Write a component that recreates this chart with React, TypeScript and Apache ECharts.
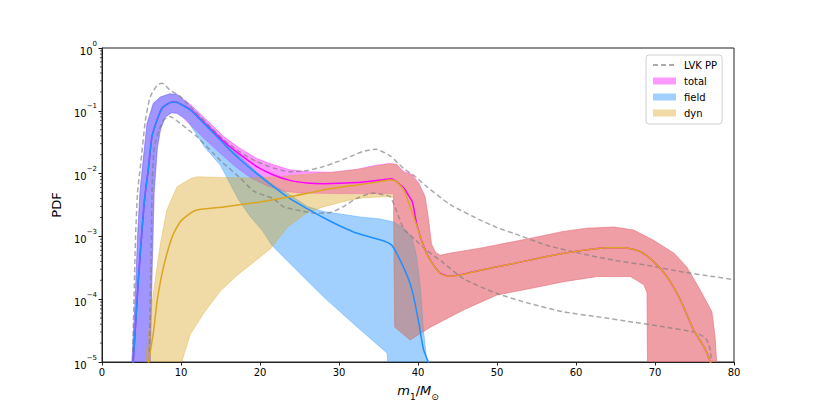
import React, { useEffect, useRef } from "react";
import * as echarts from "echarts";

type P = [number, number];

// ---- data (m1 [Msun], PDF) ----
const lvkUpper: P[] = [
  [3.85, 8e-6], [4.05, 1e-4], [4.25, 1e-3], [4.5, 5.0e-3], [4.86, 1.29e-2], [5.5, 7.1e-2],
  [6.1, 0.166], [7.0, 0.257], [7.6, 0.275], [8.6, 0.214], [9.9, 0.17], [11.2, 0.117],
  [13.3, 0.063], [15.4, 0.0347], [17.5, 0.0219], [19.6, 0.0155], [21.7, 0.0123], [23.8, 0.0107],
  [26, 0.0112], [28, 0.0129], [30, 0.0158], [31.4, 0.0186], [33, 0.0224], [34.6, 0.0245],
  [36.5, 0.019], [38.2, 0.012], [39.7, 0.0089], [41.1, 0.0062], [44.1, 0.0032], [47.9, 1.82e-3],
  [50, 1.38e-3], [52.1, 1.12e-3], [56.3, 7.24e-4], [60.5, 5.37e-4], [64.8, 4.17e-4],
  [69, 3.47e-4], [73.2, 2.75e-4], [77.4, 2.29e-4], [80, 2.04e-4],
];
const lvkLower: P[] = [
  [5.95, 8e-6], [6.12, 1e-4], [6.25, 1e-3], [6.35, 6.3e-3], [6.6, 0.0251], [7.2, 0.049],
  [7.8, 0.0708], [8.6, 0.0813], [9.9, 0.063], [11.2, 0.0468], [12.0, 0.0389], [14.1, 0.0209],
  [15.4, 0.0145], [17.5, 8.5e-3], [19.2, 5.25e-3], [21.7, 3.98e-3], [23, 2.95e-3], [25.5, 2.5e-3],
  [27.2, 2.34e-3], [28.9, 2.4e-3], [30.5, 2.95e-3], [32.3, 4.07e-3], [34.4, 4.9e-3], [35.6, 4.6e-3],
  [36.5, 4.27e-3], [37.3, 2.5e-3], [38.2, 1.32e-3], [39.7, 8.7e-4], [41.1, 6.0e-4], [43.2, 3.8e-4],
  [45.8, 2.1e-4], [50, 1.23e-4], [54.2, 8.5e-5], [58.4, 6.3e-5], [62.7, 5.25e-5], [66.9, 4.37e-5],
  [71.1, 3.63e-5], [74.9, 3.0e-5], [76.4, 2.4e-5], [77.0, 1.55e-5], [77.15, 8e-6],
];

const totalHi: P[] = [
  [3.75, 8e-6], [4.2, 1e-4], [4.5, 1e-3], [4.8, 5e-3], [5.2, 0.0158], [5.7, 0.063], [6.5, 0.132],
  [7.4, 0.166], [8.6, 0.186], [9.5, 0.182], [11.2, 0.126], [13.3, 0.0708], [15.4, 0.0389],
  [17.5, 0.0251], [19.6, 0.0174], [21.7, 0.0138], [23.8, 0.0115], [26, 0.0107], [29, 0.0105],
  [32.3, 0.0117], [34.5, 0.0135], [36.3, 0.0145], [37.3, 0.0141], [38.2, 0.0107], [39.2, 0.0098],
  [40.1, 7.1e-3], [40.9, 4.3e-3], [41.3, 2.0e-3], [41.7, 7.6e-4], [42.2, 5.6e-4], [42.8, 5.0e-4],
  [44, 5.4e-4], [47.9, 6.5e-4], [54.2, 9.3e-4], [58.4, 1.2e-3], [61.4, 1.35e-3], [64.8, 1.41e-3],
  [67.3, 1.26e-3], [69.8, 8.7e-4], [72.4, 5.4e-4], [74, 3.3e-4], [75.7, 1.41e-4], [77.2, 6.3e-5],
  [77.6, 2.5e-5], [77.8, 1e-5], [77.85, 8e-6],
];
const totalLo: P[] = [
  [6.1, 8e-6], [6.35, 3.16e-4], [6.6, 5e-3], [7.0, 0.0251], [7.4, 0.05], [8.0, 0.079],
  [8.8, 0.093], [9.5, 0.091], [10.2, 0.079], [11, 0.063], [13, 0.0355], [15, 0.0209],
  [17, 0.0126], [19, 8.3e-3], [21, 6.3e-3], [23, 5.25e-3], [25, 4.9e-3], [30, 4.8e-3],
  [36.9, 4.8e-3], [37.05, 3.6e-5], [39, 2.24e-5], [41.6, 3.6e-5], [45.8, 6.8e-5], [50, 1.17e-4],
  [54.2, 1.48e-4], [58.4, 1.9e-4], [62.7, 2.3e-4], [66.9, 2.3e-4], [68.6, 1.7e-4], [69.0, 1.26e-4],
  [69.05, 8e-6],
];

const fieldHi: P[] = [
  [3.75, 8e-6], [4.2, 1e-4], [4.5, 1e-3], [4.8, 5e-3], [5.2, 0.0158], [5.7, 0.063], [6.5, 0.132],
  [7.4, 0.166], [8.6, 0.186], [9.5, 0.182], [11.2, 0.117], [13.3, 0.063], [15.4, 0.0339],
  [17.5, 0.0186], [19.6, 0.0105], [21.7, 6.6e-3], [23.8, 4.57e-3], [26, 3.0e-3], [28, 2.5e-3],
  [32.7, 2.04e-3], [35.2, 1.9e-3], [36.9, 1.7e-3], [38, 1.41e-3], [39.2, 1.0e-3], [39.8, 5.0e-4],
  [40.3, 1.58e-4], [40.7, 3.2e-5], [41.1, 1.07e-5], [41.2, 8e-6],
];
const fieldLo: P[] = [
  [6.1, 8e-6], [6.35, 3.16e-4], [6.6, 5e-3], [7.0, 0.0251], [7.4, 0.05], [8.0, 0.079],
  [8.8, 0.093], [9.5, 0.091], [10.8, 0.0708], [13, 0.0263], [15, 0.0135], [17.3, 3.8e-3],
  [18.8, 2.04e-3], [20.25, 1.26e-3], [21.5, 7.2e-4], [23.8, 3.7e-4], [28, 1.1e-4], [32.3, 3.6e-5],
  [35.2, 1.74e-5], [36.1, 1.38e-5], [36.2, 8e-6],
];

const dynHi: P[] = [
  [5.4, 8e-6], [6.0, 4e-5], [6.5, 1.26e-4], [7.4, 7.8e-4], [8.2, 2.63e-3], [9.5, 6.2e-3],
  [11.2, 8.3e-3], [12, 8.9e-3], [15, 8.7e-3], [18.8, 8.5e-3], [22, 8.9e-3], [26, 9.8e-3],
  [30, 0.0107], [33, 0.012], [35.6, 0.0138], [36.5, 0.0143], [37.3, 0.0138], [38.2, 0.0104],
  [39.2, 0.0094], [40.1, 6.9e-3], [40.9, 4.2e-3], [41.3, 1.95e-3], [41.7, 7.6e-4], [42.2, 5.6e-4],
  [42.8, 5.0e-4], [44, 5.4e-4], [47.9, 6.5e-4], [54.2, 9.3e-4], [58.4, 1.2e-3], [61.4, 1.35e-3],
  [64.8, 1.41e-3], [67.3, 1.26e-3], [69.8, 8.7e-4], [72.4, 5.4e-4], [74, 3.3e-4], [75.7, 1.41e-4],
  [77.2, 6.3e-5], [77.6, 2.5e-5], [77.8, 1e-5], [77.85, 8e-6],
];
const dynLo: P[] = [
  [9.85, 8e-6], [11.2, 2.8e-5], [13, 6.3e-5], [15, 1.35e-4], [17, 2.34e-4], [18.8, 3.55e-4],
  [21.3, 6.3e-4], [23.5, 1.41e-3], [26, 2.4e-3], [28, 2.95e-3], [31.4, 3.8e-3], [33, 4.1e-3],
  [36.1, 4.3e-3], [36.9, 4.17e-3], [37.05, 3.6e-5], [39, 2.24e-5], [41.6, 3.6e-5], [45.8, 6.8e-5],
  [50, 1.17e-4], [54.2, 1.48e-4], [58.4, 1.9e-4], [62.7, 2.3e-4], [66.9, 2.3e-4], [68.6, 1.7e-4],
  [69.0, 1.26e-4], [69.05, 8e-6],
];

const fieldMed: P[] = [
  [3.9, 8e-6], [3.95, 1e-5], [4.3, 5e-5], [4.6, 2e-4], [5.0, 1e-3], [5.4, 4e-3], [5.9, 0.0129],
  [6.33, 0.039], [6.96, 0.0708], [7.6, 0.11], [8.6, 0.135], [9.3, 0.138], [10, 0.126],
  [11.2, 0.102], [13.3, 0.056], [15.4, 0.03], [17.5, 0.0166], [19.6, 0.01], [21.7, 6.2e-3],
  [23.8, 3.98e-3], [25.9, 2.8e-3], [28, 2.0e-3], [30.2, 1.45e-3], [32.3, 1.12e-3], [35.6, 8.5e-4],
  [36.6, 7.4e-4], [37.1, 6.0e-4], [38.2, 3.16e-4], [39.0, 1.78e-4], [39.6, 8.9e-5], [40.2, 3.55e-5],
  [40.7, 1.58e-5], [41.3, 1e-5], [41.4, 8e-6],
];
const totalMed: P[] = [
  [3.9, 8e-6], [3.95, 1e-5], [4.3, 5e-5], [4.6, 2e-4], [5.0, 1e-3], [5.4, 4e-3], [5.9, 0.0129],
  [6.33, 0.039], [6.96, 0.0708], [7.6, 0.11], [8.6, 0.135], [9.3, 0.139], [10, 0.127],
  [11.2, 0.105], [13.3, 0.0575], [15.4, 0.0324], [17.5, 0.02], [19.6, 0.0129], [21.7, 9.5e-3],
  [23.8, 7.8e-3], [25.9, 7.1e-3], [28, 6.9e-3], [32.3, 7.2e-3], [35.2, 7.9e-3], [36.7, 8.3e-3],
  [37.2, 7.6e-3], [38.2, 5.9e-3], [38.9, 4.3e-3], [39.3, 3.5e-3], [39.9, 1.45e-3], [40.9, 6.1e-4],
  [41.8, 3.75e-4], [42.8, 2.6e-4], [43.7, 2.36e-4], [44.5, 2.36e-4], [47.9, 2.9e-4],
  [52.1, 3.7e-4], [56.3, 4.8e-4], [60.5, 5.9e-4], [63.9, 6.6e-4], [66, 6.6e-4], [68.1, 5.75e-4],
  [69.8, 4.0e-4], [71.5, 2.3e-4], [73.2, 9.8e-5], [74.9, 3.2e-5], [76.2, 1.74e-5], [77.0, 1e-5],
  [77.1, 8e-6],
];
const dynMed: P[] = [
  [5.85, 8e-6], [5.9, 1e-5], [6.5, 2.9e-5], [7.0, 9.8e-5], [7.8, 3.3e-4], [8.9, 1e-3],
  [9.9, 1.7e-3], [11.2, 2.34e-3], [12, 2.63e-3], [15.4, 2.95e-3], [19.6, 3.47e-3],
  [23.8, 4.27e-3], [28, 5.5e-3], [32.3, 6.6e-3], [35, 7.4e-3], [36.5, 7.9e-3], [37.2, 7.6e-3],
  [38.2, 5.5e-3], [39, 2.95e-3], [39.9, 1.41e-3], [40.9, 6.0e-4], [41.8, 3.7e-4], [42.8, 2.57e-4],
  [43.7, 2.34e-4], [44.5, 2.34e-4], [47.9, 2.9e-4], [52.1, 3.7e-4], [56.3, 4.8e-4], [60.5, 5.9e-4],
  [63.9, 6.6e-4], [66, 6.6e-4], [68.1, 5.75e-4], [69.8, 4.0e-4], [71.5, 2.3e-4], [73.2, 9.8e-5],
  [74.9, 3.2e-5], [76.2, 1.74e-5], [77.0, 1e-5], [77.1, 8e-6],
];

const xTicks = [0, 10, 20, 30, 40, 50, 60, 70, 80];
const yDecades = [1e-5, 1e-4, 1e-3, 1e-2, 1e-1, 1];
const minorMantissas = [2, 3, 4, 5, 6, 7, 8, 9];

const C_TOTAL = "#ff00ff";
const C_FIELD = "#1e90ff";
const C_DYN = "#daa520";
const F_TOTAL = "rgba(255,0,255,0.4)";
const F_FIELD = "rgba(30,144,255,0.42)";
const F_DYN = "rgba(218,165,32,0.4)";
const C_LVK = "rgba(125,125,125,0.65)";
const FONT = "DejaVu Sans";

function bandSeries(name: string, hi: P[], lo: P[], fill: string) {
  return {
    name,
    type: "custom",
    clip: true,
    silent: true,
    itemStyle: { color: fill },
    data: [[hi[0][0], hi[0][1]]],
    renderItem: (_params: any, api: any) => {
      const pts: number[][] = [];
      for (const p of hi) pts.push(api.coord(p));
      for (let i = lo.length - 1; i >= 0; i--) pts.push(api.coord(lo[i]));
      return {
        type: "polygon",
        shape: { points: pts },
        style: { fill, stroke: fill, lineWidth: 0.8 },
      };
    },
  };
}

function lineSeries(name: string, data: P[], color: string, dashed = false) {
  return {
    name,
    type: "line",
    data,
    showSymbol: false,
    symbol: "none",
    smooth: 0.2,
    clip: true,
    silent: true,
    itemStyle: { color },
    lineStyle: dashed
      ? { color, width: 1.5, type: [5, 3] }
      : { color, width: 1.5 },
  };
}

export default function App() {
  const ref = useRef<HTMLDivElement>(null);
  useEffect(() => {
    document.body.style.margin = "0";
    if (!ref.current) return;
    const chart = echarts.init(ref.current, undefined, { renderer: "svg" });

    const minorVals: number[][] = [];
    for (const d of yDecades.slice(0, -1)) for (const m of minorMantissas) minorVals.push([0, d * m]);

    const option: any = {
      animation: false,
      backgroundColor: "#fff",
      textStyle: { fontFamily: FONT },
      grid: {
        left: 102, right: 80, top: 48, bottom: 45,
        show: true, borderColor: "#222", borderWidth: 1, backgroundColor: "transparent",
      },
      legend: {
        left: 646, top: 55,
        orient: "vertical",
        selectedMode: false,
        itemWidth: 23, itemHeight: 7, itemGap: 4,
        padding: [4, 5, 5, 6],
        borderColor: "#d0d0d0", borderWidth: 1, borderRadius: 3,
        backgroundColor: "rgba(255,255,255,0.8)",
        textStyle: { fontSize: 10, fontFamily: FONT, color: "#000", lineHeight: 12, padding: [0, 0, 0, 3] },
        data: [
          { name: "LVK PP", itemStyle: { opacity: 0 } },
          { name: "total", icon: "rect", itemStyle: { color: F_TOTAL } },
          { name: "field", icon: "rect", itemStyle: { color: F_FIELD } },
          { name: "dyn", icon: "rect", itemStyle: { color: F_DYN } },
        ],
      },
      xAxis: {
        type: "value", min: xTicks[0], max: xTicks[xTicks.length - 1], interval: 10,
        splitLine: { show: false },
        axisLine: { lineStyle: { color: "#222", width: 1 } },
        axisTick: { show: true, length: 3.5, lineStyle: { color: "#222" } },
        axisLabel: { fontSize: 10, color: "#000", margin: 5, fontFamily: FONT },
        name: "{i|m}{s|1}{n|/}{i|M}{s|⊙}",
        nameLocation: "middle",
        nameGap: 22,
        nameTextStyle: {
          fontFamily: FONT,
          rich: {
            i: { fontSize: 13, fontStyle: "italic", fontFamily: FONT, color: "#000", verticalAlign: "top", lineHeight: 17 },
            n: { fontSize: 13, fontFamily: FONT, color: "#000", verticalAlign: "top", lineHeight: 17 },
            s: { fontSize: 9, fontFamily: FONT, color: "#000", verticalAlign: "bottom", lineHeight: 17 },
          },
        },
      },
      yAxis: {
        type: "log", logBase: 10, min: yDecades[0], max: yDecades[yDecades.length - 1],
        splitNumber: 5,
        splitLine: { show: false },
        axisLine: { show: true, lineStyle: { color: "#222", width: 1 } },
        axisTick: { show: true, length: 3.5, lineStyle: { color: "#222" } },
        axisLabel: {
          margin: 5,
          color: "#000",
          formatter: (v: number) => {
            const e = Math.round(Math.log10(v));
            return `{b|10}{s|${e === 0 ? "0" : "\u2212" + -e}}`;
          },
          rich: {
            b: { fontSize: 10, fontFamily: FONT, color: "#000", verticalAlign: "bottom", lineHeight: 16 },
            s: { fontSize: 7, fontFamily: FONT, color: "#000", verticalAlign: "top", lineHeight: 16 },
          },
        },
        name: "PDF",
        nameLocation: "middle",
        nameGap: 38,
        nameRotate: 90,
        nameTextStyle: { fontSize: 13, fontFamily: FONT, color: "#000" },
      },
      series: [
        lineSeries("LVK PP", lvkUpper, C_LVK, true),
        lineSeries("LVK PP", lvkLower, C_LVK, true),
        bandSeries("total", totalHi, totalLo, F_TOTAL),
        bandSeries("field", fieldHi, fieldLo, F_FIELD),
        bandSeries("dyn", dynHi, dynLo, F_DYN),
        lineSeries("total median", totalMed, C_TOTAL),
        lineSeries("field median", fieldMed, C_FIELD),
        lineSeries("dyn median", dynMed, C_DYN),
        {
          name: "minor ticks",
          type: "custom",
          silent: true,
          clip: false,
          data: minorVals,
          renderItem: (_p: any, api: any) => {
            const pt = api.coord([api.value(0), api.value(1)]);
            return {
              type: "line",
              shape: { x1: pt[0] - 2, y1: pt[1], x2: pt[0], y2: pt[1] },
              style: { stroke: "#222", lineWidth: 0.8 },
            };
          },
        },
      ],
    };
    chart.setOption(option);
    return () => chart.dispose();
  }, []);
  return <div ref={ref} style={{ width: 814, height: 407 }} />;
}
